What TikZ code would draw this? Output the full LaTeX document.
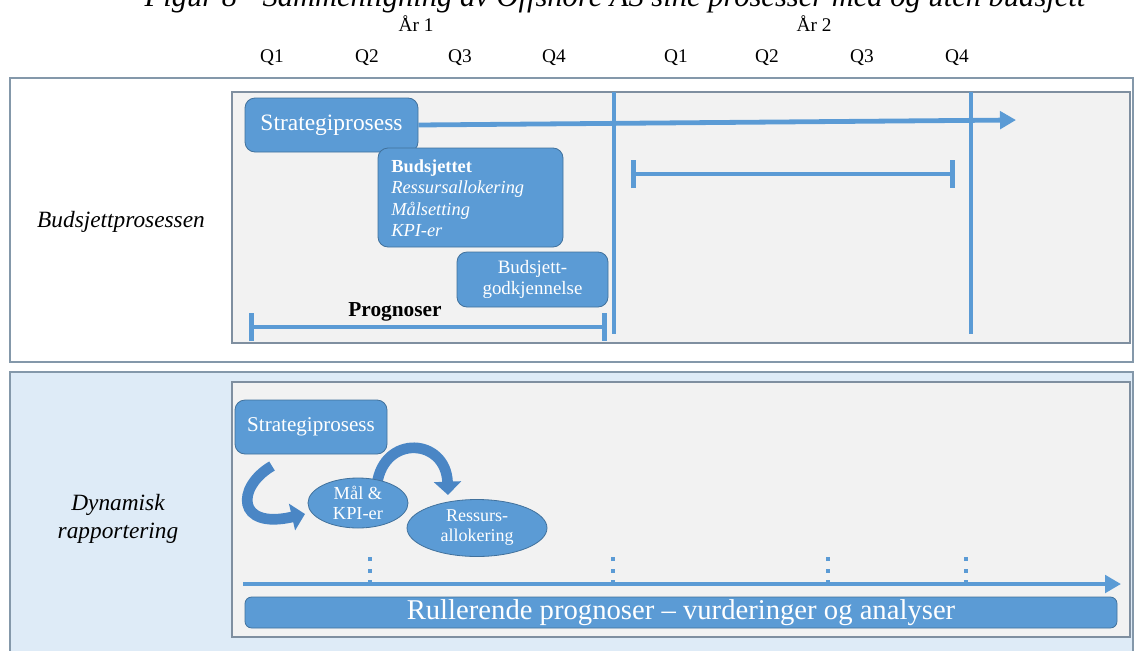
\documentclass[tikz,border=0pt]{standalone}
\usepackage{fontspec}
\setmainfont{Liberation Serif}
\usetikzlibrary{arrows.meta,shapes.geometric,fit}
\definecolor{boxblue}{HTML}{5B9BD5}
\definecolor{boxedge}{HTML}{41719C}
\definecolor{lineblue}{HTML}{5B9BD5}
\definecolor{arrowblue}{HTML}{4A86C5}
\definecolor{paneledge}{HTML}{8498AA}
\definecolor{inneredge}{HTML}{7F8FA0}
\definecolor{innerfill}{HTML}{F2F2F2}
\definecolor{panelblue}{HTML}{DEEBF7}
\tikzset{
  panel/.style={draw=paneledge, line width=1.2pt},
  innerpanel/.style={draw=inneredge, line width=0.9pt, fill=innerfill},
  bluebox/.style={draw=boxedge, line width=0.6pt, fill=boxblue, rounded corners=7.5pt, inner sep=0pt},
  boxtext/.style={text=white, align=center, inner sep=0pt},
  ellbox/.style={ellipse, draw=boxedge, line width=0.6pt, fill=boxblue, inner sep=0pt, text=white, align=center},
  vline/.style={draw=lineblue, line width=3pt},
  thickarrow/.style={draw=lineblue, line width=3.6pt, -{Triangle[length=12pt,width=13pt]}},
  axisarrow/.style={draw=lineblue, line width=3pt, -{Triangle[length=12pt,width=13pt]}},
  bracket/.style={draw=lineblue, line width=3.6pt, {Bar[width=21pt]}-{Bar[width=21pt]}},
  dotline/.style={draw=lineblue, line width=3pt, dash pattern=on 3pt off 5.6pt},
  curvarrow/.style={draw=arrowblue, line width=8pt, -{Triangle[length=10pt,width=20pt]}},
  qlab/.style={font=\fontsize{14.5}{17}\selectfont},
  sidelab/.style={font=\fontsize{17.5}{21}\selectfont\itshape, align=center},
}
\begin{document}
\begin{tikzpicture}[x=0.75pt,y=-0.75pt]
\useasboundingbox (0,0) rectangle (1134,650);

% title (partly cut off at the top, as in the reference)
\node[anchor=base, font=\fontsize{22.9}{27}\selectfont\itshape] (title) at (615,6)
  {Figur 8 - Sammenligning av Offshore AS sine prosesser med og uten budsjett};

% year and quarter labels
\node[qlab] (y1) at (416,24) {År 1};
\node[qlab] (y2) at (814,24) {År 2};
\node[qlab] (q11) at (272,58) {Q1};
\node[qlab] (q12) at (367,58) {Q2};
\node[qlab] (q13) at (460,58) {Q3};
\node[qlab] (q14) at (554,58) {Q4};
\node[qlab] (q21) at (676,58) {Q1};
\node[qlab] (q22) at (767,58) {Q2};
\node[qlab] (q23) at (862,58) {Q3};
\node[qlab] (q24) at (957,58) {Q4};

% panels
\path[panel, fill=white] (10,78) rectangle (1133,362);
\path[innerpanel] (232,92) rectangle (1130,343);
\path[panel, fill=panelblue] (10,372) rectangle (1133,662);
\path[innerpanel] (232,382) rectangle (1130,637);

\node[sidelab] (lab1) at (121,222) {Budsjettprosessen};
\node[sidelab] (lab2) at (118,519) {Dynamisk\\rapportering};

% ---- top panel ----
\coordinate (v1t) at (614,92);  \coordinate (v1b) at (614,334);
\coordinate (v2t) at (971,92);  \coordinate (v2b) at (971,334);
\draw[vline] (v1t) -- (v1b);
\draw[vline] (v2t) -- (v2b);

\node[bluebox, fit={(245,98) (418,152)}] (s1) {};
\node[boxtext, font=\fontsize{17.6}{20}\selectfont] (s1t) at (s1.center) {Strategiprosess};
\coordinate (s1end) at (1016,120);
\draw[thickarrow] (s1.east) -- (s1end);

\node[bluebox, fit={(378,148) (563,247)}] (bud) {};
\node[anchor=west, align=left, text=white, font=\fontsize{13.8}{16.1}\selectfont, inner sep=0pt]
  (budtxt) at (391,198) {\textbf{Budsjettet}\\\textit{Ressursallokering}\\\textit{Målsetting}\\\textit{KPI-er}};

\node[bluebox, fit={(457,252) (608,307)}] (godk) {};
\node[boxtext, font=\fontsize{14.2}{15.8}\selectfont] (godktxt) at (godk.center) {Budsjett-\\godkjennelse};

\coordinate (pl) at (249,327); \coordinate (pr) at (607,327);
\draw[bracket] (pl) -- (pr);
\node[font=\fontsize{16}{19}\selectfont\bfseries] (prog) at (395,312) {Prognoser};

\coordinate (bl) at (631,174); \coordinate (br) at (955,174);
\draw[bracket] (bl) -- (br);

% ---- bottom panel ----
\node[bluebox, fit={(235,400) (387,454)}] (s2) {};
\node[boxtext, font=\fontsize{15.8}{19}\selectfont] (s2t) at (s2.center) {Strategiprosess};

\coordinate (c1s) at (272,466); \coordinate (c1e) at (305,514);
\draw[curvarrow] (c1s) .. controls (236,487) and (236,530) .. (c1e);
\coordinate (c2s) at (377,484); \coordinate (c2e) at (448,495);
\draw[curvarrow] (c2s) .. controls (384,434) and (446,438) .. (c2e);

\node[ellbox, minimum width=75pt, minimum height=37.5pt, font=\fontsize{13.8}{15}\selectfont] (mal) at (358,503) {Mål \&\\KPI-er};
\node[ellbox, minimum width=105pt, minimum height=42.75pt, font=\fontsize{13.5}{15}\selectfont] (res) at (477,528) {Ressurs-\\allokering};

\coordinate (axl) at (243,584); \coordinate (axr) at (1121,584);
\draw[axisarrow] (axl) -- (axr);
\foreach \x/\n in {370/d1, 613/d2, 828/d3, 966/d4} {
  \coordinate (\n b) at (\x,584);
  \coordinate (\n t) at (\x,555);
  \draw[dotline] (\n b) -- (\n t);
}

\node[bluebox, rounded corners=5pt, fit={(245,597) (1117,628)}] (rull) {};
\node[boxtext, font=\fontsize{21.5}{24}\selectfont] (rullt) at (rull.center)
  {Rullerende prognoser -- vurderinger og analyser};
\end{tikzpicture}
\end{document}
